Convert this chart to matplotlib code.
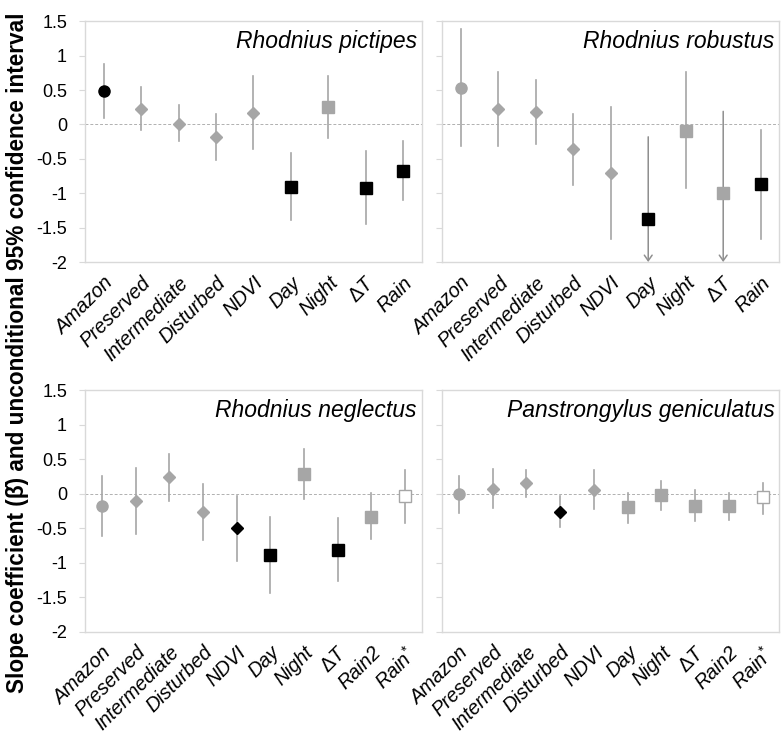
import numpy as np
import matplotlib.pyplot as plt
import matplotlib.transforms as mtransforms

plt.rcParams['font.family'] = ['Liberation Sans', 'DejaVu Sans']
plt.rcParams['mathtext.fontset'] = 'custom'
plt.rcParams['mathtext.rm'] = 'Liberation Sans'
plt.rcParams['mathtext.it'] = 'Liberation Sans:italic'

# categories
cats9 = ['Amazon', 'Preserved', 'Intermediate', 'Disturbed', 'NDVI', 'Day', 'Night', r'$\Delta\mathit{T}$', 'Rain']
cats10 = ['Amazon', 'Preserved', 'Intermediate', 'Disturbed', 'NDVI', 'Day', 'Night', r'$\Delta\mathit{T}$',
          'Rain2', r'$\mathit{Rain}^{*}$']

# Rhodnius pictipes
pic_est = [0.49, 0.23, 0.01, -0.18, 0.17, -0.91, 0.26, -0.92, -0.67]
pic_hi = [0.88, 0.55, 0.28, 0.15, 0.70, -0.41, 0.71, -0.39, -0.24]
pic_lo = [0.09, -0.08, -0.24, -0.51, -0.36, -1.39, -0.19, -1.45, -1.10]
pic_sty = ['ko', 'gD', 'gD', 'gD', 'gD', 'ks', 'gs', 'ks', 'ks']

# Rhodnius robustus (nan = lower limit below -2, drawn as arrow)
rob_est = [0.53, 0.23, 0.18, -0.36, -0.71, -1.37, -0.09, -1.00, -0.87]
rob_hi = [1.38, 0.76, 0.64, 0.15, 0.25, -0.18, 0.76, 0.19, -0.08]
rob_lo = [-0.32, -0.31, -0.29, -0.88, -1.67, np.nan, -0.92, np.nan, -1.66]
rob_sty = ['go', 'gD', 'gD', 'gD', 'gD', 'ks', 'gs', 'gs', 'ks']

# Rhodnius neglectus
neg_est = [-0.18, -0.10, 0.24, -0.27, -0.50, -0.89, 0.28, -0.81, -0.34, -0.04]
neg_hi = [0.26, 0.37, 0.57, 0.14, -0.04, -0.34, 0.65, -0.35, 0.01, 0.34]
neg_lo = [-0.61, -0.58, -0.10, -0.67, -0.97, -1.44, -0.08, -1.27, -0.66, -0.42]
neg_sty = ['go', 'gD', 'gD', 'gD', 'kD', 'ks', 'gs', 'ks', 'gs', 'ws']

# Panstrongylus geniculatus
gen_est = [0.0, 0.07, 0.15, -0.27, 0.06, -0.19, -0.02, -0.18, -0.18, -0.05]
gen_hi = [0.26, 0.36, 0.35, -0.04, 0.35, 0.01, 0.19, 0.05, 0.01, 0.16]
gen_lo = [-0.28, -0.21, -0.05, -0.48, -0.22, -0.43, -0.24, -0.40, -0.38, -0.30]
gen_sty = ['go', 'gD', 'gD', 'kD', 'gD', 'gs', 'gs', 'gs', 'gs', 'ws']

yticks = [1.5, 1, 0.5, 0, -0.5, -1, -1.5, -2]
ytick_labels = ['1.5', '1', '0.5', '0', '-0.5', '-1', '-1.5', '-2']

GREY = '#a6a6a6'
EDGE = '#d9d9d9'

panels = [
    ('Rhodnius pictipes', cats9, pic_est, pic_hi, pic_lo, pic_sty, [0.109, 0.642, 0.431, 0.329], True),
    ('Rhodnius robustus', cats9, rob_est, rob_hi, rob_lo, rob_sty, [0.566, 0.642, 0.432, 0.329], False),
    ('Rhodnius neglectus', cats10, neg_est, neg_hi, neg_lo, neg_sty, [0.109, 0.137, 0.431, 0.330], True),
    ('Panstrongylus geniculatus', cats10, gen_est, gen_hi, gen_lo, gen_sty, [0.566, 0.137, 0.432, 0.330], False),
]

fig = plt.figure(figsize=(7.81, 7.32), dpi=100)
shift = mtransforms.ScaledTranslation(4 / 100, 0, fig.dpi_scale_trans)

for title, cats, est, hi, lo, sty, rect, show_labels in panels:
    ax = fig.add_axes(rect)
    x = np.arange(len(cats))
    ax.axhline(0, color='#b0b0b0', lw=0.7, ls=(0, (3, 2)), zorder=1)
    for i in range(len(cats)):
        low = lo[i]
        if np.isnan(low):
            ax.annotate('', xy=(x[i], -2.0), xytext=(x[i], hi[i]),
                        arrowprops=dict(arrowstyle='->,head_width=0.28,head_length=0.4',
                                        color='#8f8f8f', lw=1.1, shrinkA=0, shrinkB=0),
                        zorder=2, annotation_clip=False)
        else:
            ax.plot([x[i], x[i]], [low, hi[i]], color=GREY, lw=1.2, zorder=2)
        c, m = sty[i][0], sty[i][1]
        if c == 'k':
            fc, ec = 'black', 'black'
        elif c == 'g':
            fc, ec = GREY, GREY
        else:
            fc, ec = 'white', GREY
        ms = {'o': 8, 's': 8.5, 'D': 6}[m]
        if m == 'D' and c == 'k':
            ms = 6.5
        ax.plot(x[i], est[i], marker=m, ms=ms, mfc=fc, mec=ec, mew=1.0, ls='none', zorder=4)
    ax.set_xlim(-0.5, len(cats) - 0.5)
    ax.set_ylim(-2, 1.5)
    ax.set_yticks(yticks)
    if show_labels:
        ax.set_yticklabels(ytick_labels, fontsize=13)
    else:
        ax.set_yticklabels([])
    ax.tick_params(axis='y', direction='out', length=4, color=EDGE, pad=9)
    ax.set_xticks(x)
    ax.set_xticklabels(cats, rotation=45, ha='right', va='top', rotation_mode='anchor',
                       fontsize=14.3, style='italic')
    for lab in ax.get_xticklabels():
        lab.set_transform(lab.get_transform() + shift)
    ax.tick_params(axis='x', length=0, pad=8)
    for s in ax.spines.values():
        s.set_color(EDGE)
        s.set_linewidth(1.0)
    ax.text(0.985, 0.965, title, transform=ax.transAxes, ha='right', va='top',
            fontsize=16.5, style='italic')

fig.text(0.022, 0.518, 'Slope coefficient (\u03b2\u0302) and unconditional 95% confidence interval',
         rotation=90, ha='center', va='center', fontsize=16.3, fontweight='bold')

fig.savefig('out.png', dpi=100)
